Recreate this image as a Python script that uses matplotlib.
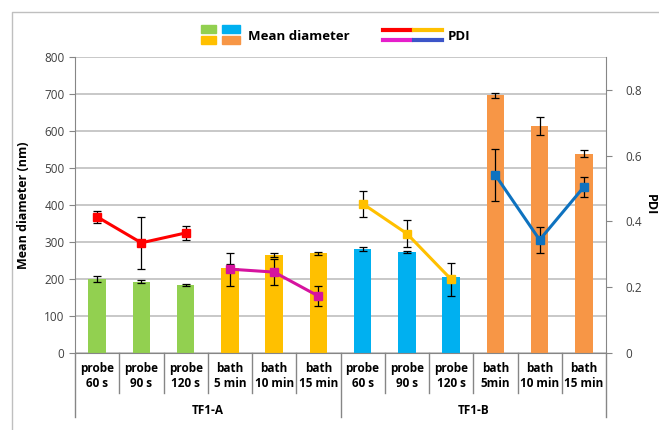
import matplotlib.pyplot as plt
from matplotlib.lines import Line2D
from matplotlib.patches import Rectangle
import numpy as np

plt.rcParams['font.family'] = ['Open Sans', 'DejaVu Sans']

# category labels (two levels)
labels = ["probe\n60 s", "probe\n90 s", "probe\n120 s", "bath\n5 min", "bath\n10 min", "bath\n15 min",
          "probe\n60 s", "probe\n90 s", "probe\n120 s", "bath\n5min", "bath\n10 min", "bath\n15 min"]
groups = ["TF1-A", "TF1-B"]

# mean diameter (nm) and its error
diameter = [200, 192, 183, 230, 265, 270, 282, 273, 206, 697, 613, 539]
diameter_err = [8, 4, 3, 10, 6, 4, 5, 4, 3, 7, 25, 10]
bar_colors = ["#92D050"] * 3 + ["#FFC000"] * 3 + ["#00B0F0"] * 3 + ["#F79646"] * 3

# PDI series, three points each
pdi_probe_a = [0.414, 0.335, 0.365]
pdi_probe_a_err = [0.018, 0.08, 0.02]
pdi_bath_a = [0.255, 0.246, 0.173]
pdi_bath_a_err = [0.05, 0.04, 0.03]
pdi_probe_b = [0.454, 0.363, 0.224]
pdi_probe_b_err = [0.04, 0.04, 0.05]
pdi_bath_b = [0.541, 0.344, 0.505]
pdi_bath_b_err = [0.08, 0.04, 0.03]

grid_c = "#BFBFBF"
axis_c = "#868686"

fig = plt.figure(figsize=(6.59, 4.30), dpi=100)
W, H = 659, 430
ax = fig.add_axes([75 / W, (H - 353) / H, (606 - 75) / W, (353 - 57) / H])

def px(xp, yp):
    # pixel position (from top-left) -> figure fraction
    return xp / W, (H - yp) / H

x = np.arange(len(diameter))
ax.bar(x, diameter, width=0.4, color=bar_colors, zorder=2)
ax.errorbar(x, diameter, yerr=diameter_err, fmt='none', ecolor='black',
            elinewidth=0.9, capsize=3, capthick=0.9, zorder=3)

ax.set_xlim(-0.5, 11.5)
ax.set_ylim(0, 800)
ax.set_yticks(range(0, 801, 100))
ax.yaxis.grid(True, color=grid_c, linewidth=1.2, zorder=0)
ax.set_axisbelow(True)
ax.set_xticks([])
ax.tick_params(axis='y', colors=axis_c, labelcolor='#404040', labelsize=8.5, length=4, direction='out')
for s in ['top', 'right']:
    ax.spines[s].set_visible(False)
ax.spines['left'].set_color(axis_c)
ax.spines['bottom'].set_color(axis_c)
ax.set_ylabel("Mean diameter (nm)", fontsize=9, fontweight='bold', labelpad=10)

ax2 = ax.twinx()
ax2.set_ylim(0, 0.9)
ax2.set_yticks([0, 0.2, 0.4, 0.6, 0.8])
ax2.set_yticklabels(["0", "0.2", "0.4", "0.6", "0.8"])
ax2.tick_params(axis='y', colors=axis_c, labelcolor='#404040', labelsize=8.5, length=4, direction='out', pad=10)
for s in ['top', 'left', 'bottom']:
    ax2.spines[s].set_visible(False)
ax2.spines['right'].set_color(axis_c)
fig.text(*px(650, 205), "PDI", fontsize=9, fontweight='bold', rotation=270,
         ha='center', va='center')

pdi_sets = [
    (x[0:3], pdi_probe_a, pdi_probe_a_err, "#FF0000"),
    (x[3:6], pdi_bath_a, pdi_bath_a_err, "#D6139F"),
    (x[6:9], pdi_probe_b, pdi_probe_b_err, "#FFC000"),
    (x[9:12], pdi_bath_b, pdi_bath_b_err, "#0E72BF"),
]
for xs, ys, es, c in pdi_sets:
    ax2.errorbar(xs, ys, yerr=es, fmt='none', ecolor='black', elinewidth=0.9,
                 capsize=3, capthick=0.9, zorder=4)
    ax2.plot(xs, ys, color=c, linewidth=2.2, marker='s', markersize=6, zorder=5)

# two-level category axis
trans = ax.get_xaxis_transform()
for i, lab in enumerate(labels):
    ax.text(i, -0.078, lab, transform=trans, ha='center', va='center',
            fontsize=8.5, fontweight='bold', linespacing=1.15)
for i in range(13):
    y_end = -0.216 if i % 6 == 0 else -0.135
    ax.add_line(Line2D([i - 0.5, i - 0.5], [0, y_end], transform=trans,
                       color=axis_c, linewidth=1, clip_on=False))
for g, name in enumerate(groups):
    ax.text(g * 6 + 2.5, -0.193, name, transform=trans, ha='center', va='center',
            fontsize=8.5, fontweight='bold')

# legend built from patches and line pieces
for (x0, y0, x1, y1), c in [((201, 25, 216, 33), "#92D050"), ((222, 25, 240, 33), "#00B0F0"),
                            ((201, 36, 216, 44), "#FFC000"), ((222, 36, 240, 44), "#F79646")]:
    fx, fy = px(x0, y1)
    fig.add_artist(Rectangle((fx, fy), (x1 - x0) / W, (y1 - y0) / H,
                             transform=fig.transFigure, color=c))
fig.text(*px(248, 36), "Mean diameter", fontsize=9.5, fontweight='bold', va='center')
for (x0, x1, yy), c in [((383, 411, 30), "#FF0000"), ((414, 442, 30), "#FFC000"),
                        ((383, 411, 40), "#E61ECB"), ((414, 442, 40), "#3C55C8")]:
    a, b = px(x0, yy)
    d, _ = px(x1, yy)
    fig.add_artist(Line2D([a, d], [b, b], transform=fig.transFigure, color=c, linewidth=3))
fig.text(*px(448, 36), "PDI", fontsize=9.5, fontweight='bold', va='center')

# chart border
bx, by = px(12, 12)
fig.add_artist(Line2D([bx, bx, 1.01], [-0.01, by, by], transform=fig.transFigure,
                      color="#BFBFBF", linewidth=1))

fig.savefig("out.png", dpi=100)
